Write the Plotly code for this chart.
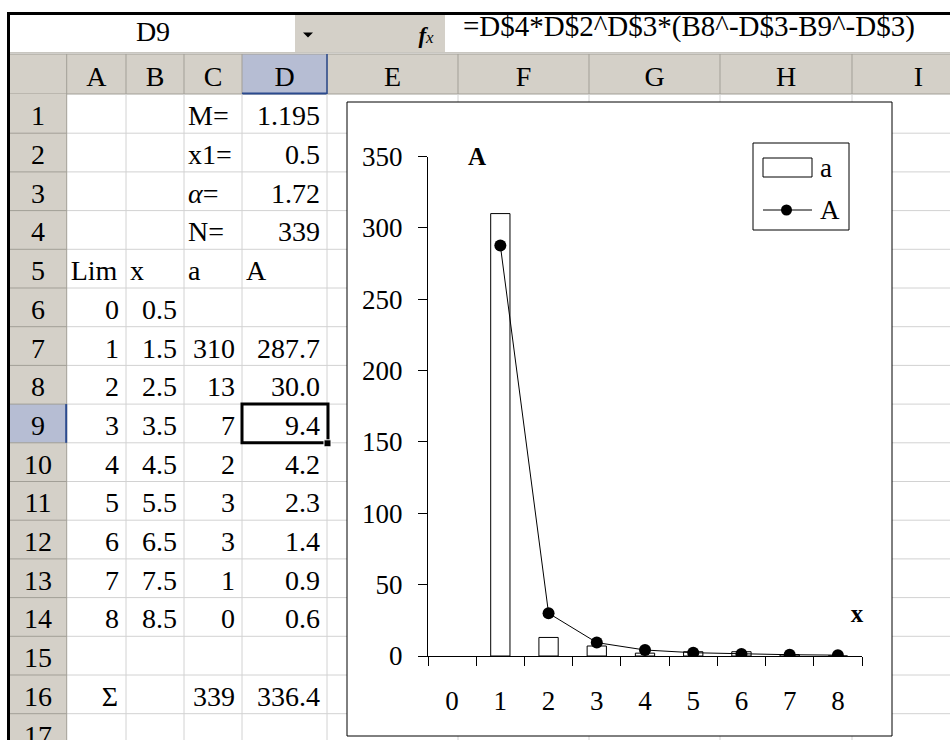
import plotly.graph_objects as go

W, H = 950, 740

# ---------------- data ----------------
cell_ref = "D9"
formula = "=D$4*D$2^D$3*(B8^-D$3-B9^-D$3)"
col_letters = ["A", "B", "C", "D", "E", "F", "G", "H", "I"]
param_labels = ["M=", "x1=", "<i>α</i>=", "N="]
param_values = ["1.195", "0.5", "1.72", "339"]
table_heads = ["Lim", "x", "a", "A"]
lims = [0, 1, 2, 3, 4, 5, 6, 7, 8]
x_mid = [0.5, 1.5, 2.5, 3.5, 4.5, 5.5, 6.5, 7.5, 8.5]
a_obs = [None, 310, 13, 7, 2, 3, 3, 1, 0]
A_fit = [None, 287.7, 30.0, 9.4, 4.2, 2.3, 1.4, 0.9, 0.6]
sum_label = "Σ"
sum_a = "339"
sum_A = "336.4"
y_ticks = [0, 50, 100, 150, 200, 250, 300, 350]

# ---------------- helpers ----------------
FONT = "Liberation Serif, Times New Roman, serif"
def px(x):
    return x / W
def py(y):
    return 1 - y / H

shapes = []
tx, ty, tt, tp, ts = [], [], [], [], []

def rect(x0, y0, x1, y1, fill=None, lc=None, lw=0):
    shapes.append(dict(type="rect", xref="paper", yref="paper",
                       x0=px(x0), x1=px(x1), y0=py(y1), y1=py(y0),
                       fillcolor=fill if fill else "rgba(0,0,0,0)",
                       line=dict(color=lc if lc else "rgba(0,0,0,0)", width=lw),
                       layer="below"))

def line(x0, y0, x1, y1, color, w=1):
    shapes.append(dict(type="line", xref="paper", yref="paper",
                       x0=px(x0), x1=px(x1), y0=py(y0), y1=py(y1),
                       line=dict(color=color, width=w), layer="below"))

POS = {"left": "middle right", "right": "middle left", "center": "middle center"}
def text(x, yc, s, anchor="center", size=28):
    # yc = vertical centre of capitals/digits
    tx.append(x)
    ty.append(yc + 0.088 * size)
    tt.append(s)
    tp.append(POS[anchor])
    ts.append(size)

HDR = "#D4D0C8"
HDR_SEL = "#B6BDD3"
HDR_LINE = "#A29F97"
SEL_BLUE = "#2B4A8E"
GRID = "#D2D2D2"

col_edges = [66.7, 126, 184, 242, 327, 458, 589, 720, 852, 985]
row_top0 = 94.5
row_h = 38.7
def rtop(n):
    return row_top0 + (n - 1) * row_h
def rmid(n):
    return rtop(n) + row_h / 2 + 2

# ---------------- formula bar ----------------
rect(295, 15, 445, 52, fill=HDR)
line(10, 52.5, 950, 52.5, "#C8C6C0", 1)
text(153, 31.5, cell_ref)
shapes.append(dict(type="path", xref="paper", yref="paper",
                   path="M %f,%f L %f,%f L %f,%f Z" % (px(303), py(32.5), px(313), py(32.5), px(308), py(37.5)),
                   fillcolor="black", line=dict(color="black", width=0), layer="below"))
text(426, 35, "<b><i>f</i></b><i><span style='font-size:17px'>x</span></i>", size=23)
text(463, 26.5, formula, anchor="left", size=29)

# ---------------- column header row ----------------
rect(10, 54, 950, 94, fill=HDR)
rect(242, 54, 327, 94, fill=HDR_SEL)
line(10, 54, 950, 54, HDR_LINE, 1)
line(10, 94, 950, 94, HDR_LINE, 1)
for e in col_edges:
    line(e, 54, e, 94, HDR_LINE, 1)
line(242, 93.5, 327, 93.5, SEL_BLUE, 2)
line(327, 54, 327, 94, SEL_BLUE, 1.5)
for i, lab in enumerate(col_letters):
    text((col_edges[i] + col_edges[i + 1]) / 2, 77, lab)

# ---------------- grid lines of the cells ----------------
for n in range(1, 18):
    line(66.7, rtop(n) + row_h, 950, rtop(n) + row_h, GRID, 1)
for e in col_edges[1:-1]:
    line(e, 94, e, 740, GRID, 1)

# ---------------- row header column ----------------
rect(10, 94, 66.7, 740, fill=HDR)
rect(10, rtop(9), 66.7, rtop(10), fill=HDR_SEL)
for n in range(1, 18):
    line(10, rtop(n) + row_h, 66.7, rtop(n) + row_h, HDR_LINE, 1)
line(66.7, 94, 66.7, 740, HDR_LINE, 1)
line(66.2, rtop(9), 66.2, rtop(10), SEL_BLUE, 2)
for n in range(1, 18):
    text(38, rmid(n), str(n))

# ---------------- window frame ----------------
line(7, 13.5, 950, 13.5, "black", 3)
line(8.5, 12, 8.5, 740, "black", 3)

# ---------------- cell contents ----------------
A_L, A_R = col_edges[0], col_edges[1]
B_L, B_R = col_edges[1], col_edges[2]
C_L, C_R = col_edges[2], col_edges[3]
D_L, D_R = col_edges[3], col_edges[4]
for i in range(4):
    text(C_L + 4, rmid(i + 1), param_labels[i], anchor="left")
    text(D_R - 7, rmid(i + 1), param_values[i], anchor="right")
for j, (l, r) in enumerate([(A_L, A_R), (B_L, B_R), (C_L, C_R), (D_L, D_R)]):
    text(l + 4, rmid(5), table_heads[j], anchor="left")
for k in range(len(lims)):
    n = 6 + k
    text(A_R - 7, rmid(n), str(lims[k]), anchor="right")
    text(B_R - 7, rmid(n), "%g" % x_mid[k], anchor="right")
    if a_obs[k] is not None:
        text(C_R - 7, rmid(n), str(a_obs[k]), anchor="right")
    if A_fit[k] is not None:
        text(D_R - 7, rmid(n), "%.1f" % A_fit[k], anchor="right")
text(110, rmid(16), sum_label)
text(C_R - 7, rmid(16), sum_a, anchor="right")
text(D_R - 7, rmid(16), sum_A, anchor="right")

# selected cell D9
rect(242, rtop(9), 328, rtop(10), lc="black", lw=3)
rect(324, rtop(10) - 3, 331, rtop(10) + 4, fill="black", lc="white", lw=1)

# ---------------- chart area ----------------
rect(347, 102, 892, 736, fill="white", lc="black", lw=1)
# legend box
rect(753, 143, 849, 230, fill="white", lc="black", lw=1)
rect(763, 158, 812, 177, fill="white", lc="black", lw=1)
line(763, 210, 812, 210, "black", 1)
shapes.append(dict(type="circle", xref="paper", yref="paper",
                   x0=px(781), x1=px(792), y0=py(215.5), y1=py(204.5),
                   fillcolor="black", line=dict(color="black", width=0), layer="below"))
text(820, 168, "a", anchor="left", size=27)
text(820, 210, "A", anchor="left", size=27)
# axis titles
text(477, 156.5, "<b>A</b>", size=25)
text(857, 613.5, "<b>x</b>", size=25)

cats = [str(v) for v in lims]

fig = go.Figure()
fig.add_trace(go.Bar(x=cats, y=a_obs, width=0.4, name="a",
                     marker=dict(color="white", line=dict(color="black", width=1))))
fig.add_trace(go.Scatter(x=cats, y=A_fit, mode="lines+markers", name="A",
                         line=dict(color="black", width=1),
                         marker=dict(color="black", size=12)))
# all sheet / chart texts, drawn on a full-window pixel overlay
fig.add_trace(go.Scatter(x=tx, y=ty, text=tt, mode="text", textposition=tp,
                         textfont=dict(family=FONT, size=ts, color="black"),
                         xaxis="x2", yaxis="y2", hoverinfo="skip", cliponaxis=True,
                         showlegend=False))

fig.update_layout(
    width=W, height=H, autosize=False,
    margin=dict(l=0, r=0, t=0, b=0, pad=0, autoexpand=False),
    paper_bgcolor="white", plot_bgcolor="rgba(0,0,0,0)",
    showlegend=False,
    shapes=shapes,
    font=dict(family=FONT, size=27, color="black"),
    xaxis=dict(domain=[428 / W, 862 / W], type="category",
               categoryorder="array", categoryarray=cats,
               range=[-0.5, 8.5], tickson="boundaries", automargin=False,
               ticks="outside", ticklen=9, tickwidth=1, tickcolor="black",
               showline=True, linecolor="black", linewidth=1,
               showgrid=False, zeroline=False, ticklabelstandoff=21,
               tickfont=dict(family=FONT, size=27, color="black")),
    yaxis=dict(domain=[1 - 656 / H, 1 - 156.5 / H], range=[0, 350], automargin=False,
               tickmode="array", tickvals=y_ticks, ticktext=[str(v) for v in y_ticks],
               ticks="outside", ticklen=9, tickwidth=1, tickcolor="black",
               showline=True, linecolor="black", linewidth=1,
               showgrid=False, zeroline=False, ticklabelstandoff=10,
               tickfont=dict(family=FONT, size=27, color="black")),
    xaxis2=dict(domain=[0, 1], range=[0, W], visible=False, anchor="y2",
                fixedrange=True, automargin=False),
    yaxis2=dict(domain=[0, 1], range=[H, 0], visible=False, anchor="x2",
                fixedrange=True, automargin=False),
)

fig.write_html("out.html")
